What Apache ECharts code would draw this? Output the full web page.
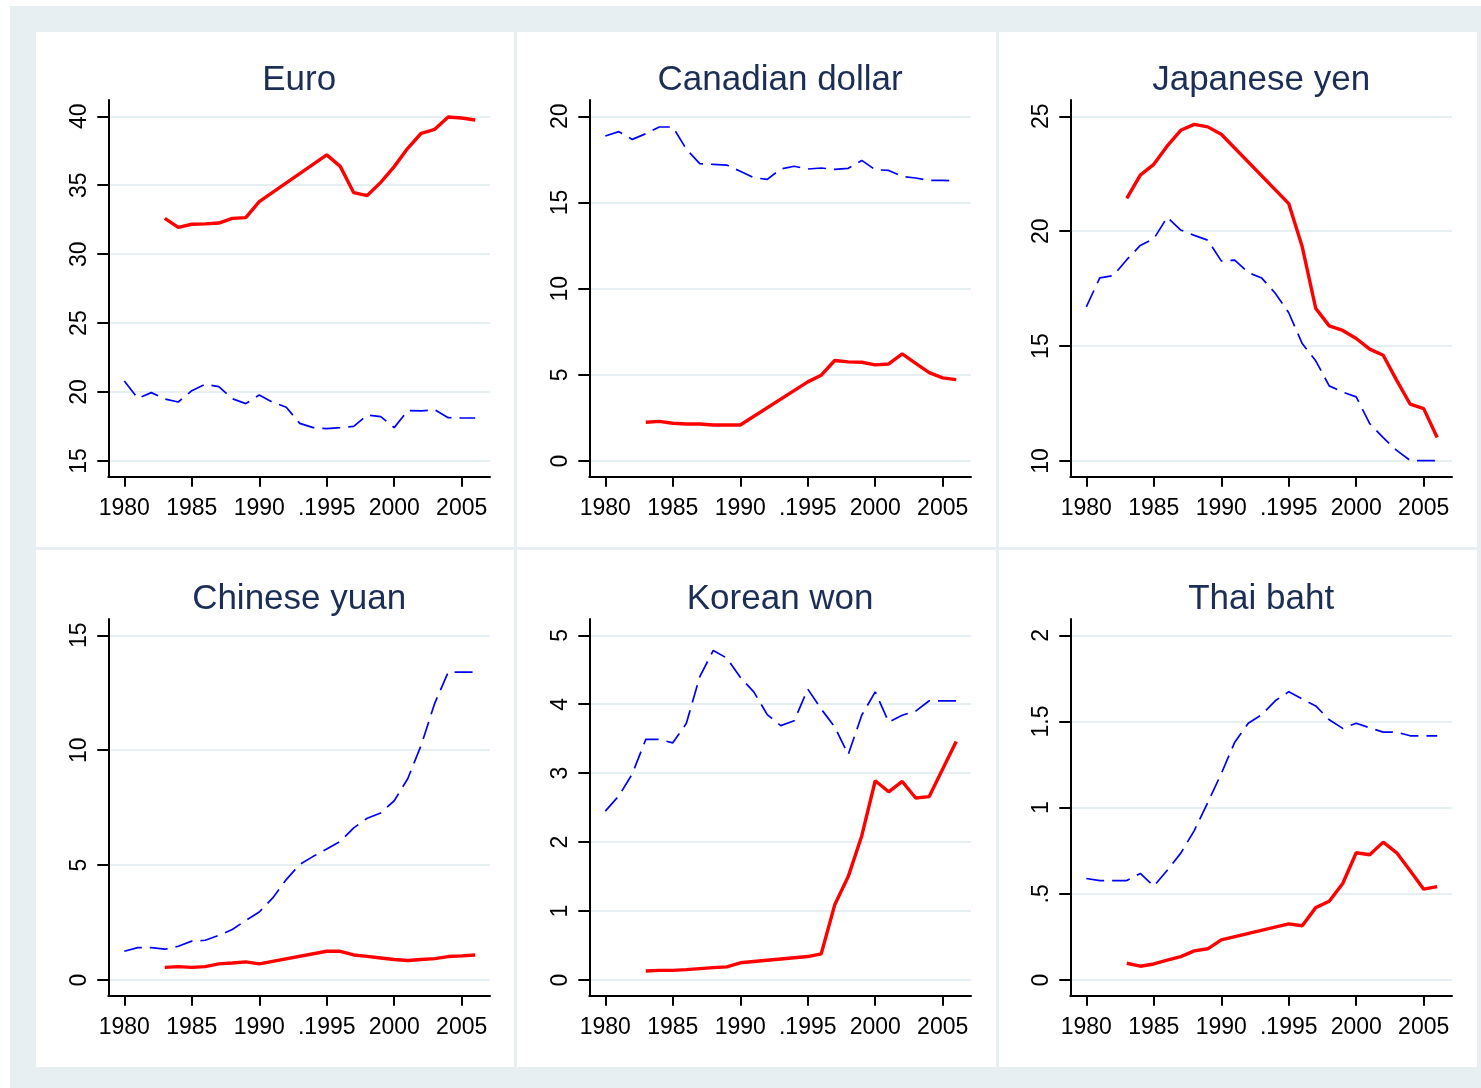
<!DOCTYPE html>
<html><head><meta charset="utf-8">
<script src="https://cdn.jsdelivr.net/npm/echarts@6/dist/echarts.min.js"></script>
<style>
html,body{margin:0;padding:0;background:#fff}
#wrap{position:relative;width:1481px;height:1088px;overflow:hidden}
.bg{position:absolute;left:10px;top:6px;width:1471px;height:1082px;background:#e8eff2}
.pn{position:absolute;background:#fff}
#c{position:absolute;left:0;top:0;width:1481px;height:1088px}
</style>
</head><body>
<div id="wrap">
<div class="bg"></div>
<div id="panels"></div>
<div id="c"></div>
</div>
<script>
const years = [1980,1981,1982,1983,1984,1985,1986,1987,1988,1989,1990,1991,1992,1993,1994,1995,1996,1997,1998,1999,2000,2001,2002,2003,2004,2005,2006];
const xTicks = [1980,1985,1990,1995,2000,2005];
const xTickLabels = ['1980','1985','1990','.1995','2000','2005'];
const titles = ['Euro','Canadian dollar','Japanese yen','Chinese yuan','Korean won','Thai baht'];

const euroSolid = [null,null,null,32.6,31.95,32.17,32.2,32.26,32.6,32.65,33.81,null,null,null,null,37.2,36.37,34.46,34.25,35.21,36.35,37.68,38.77,39.06,39.95,39.88,39.73];
const euroDashed = [20.8,19.55,19.96,19.5,19.28,20.1,20.56,20.39,19.52,19.16,19.79,19.26,18.9,17.73,17.42,17.35,17.42,17.51,18.34,18.22,17.42,18.65,18.63,18.72,18.14,18.12,18.12];
const cadSolid = [null,null,null,2.25,2.30,2.19,2.15,2.15,2.09,2.09,2.09,null,null,null,null,4.59,4.98,5.83,5.75,5.73,5.58,5.63,6.21,5.67,5.13,4.82,4.72];
const cadDashed = [18.86,19.11,18.66,18.99,19.38,19.38,18.1,17.25,17.21,17.17,16.81,16.44,16.34,16.94,17.1,16.94,17.0,16.92,16.98,17.44,16.9,16.86,16.51,16.42,16.28,16.28,16.26];
const jpySolid = [null,null,null,21.43,22.44,22.91,23.71,24.39,24.65,24.54,24.22,null,null,null,null,21.2,19.32,16.64,15.88,15.68,15.33,14.87,14.6,13.51,12.47,12.28,11.02];
const jpyDashed = [16.71,17.97,18.07,18.76,19.38,19.67,20.61,20.05,19.82,19.61,18.71,18.74,18.2,17.96,17.3,16.45,15.11,14.36,13.27,13.0,12.79,11.63,11.02,10.46,10.02,10.02,10.02];
const cnySolid = [null,null,null,0.55,0.58,0.55,0.58,0.70,0.74,0.79,0.70,null,null,null,null,1.25,1.25,1.09,1.03,0.96,0.89,0.85,0.89,0.93,1.02,1.05,1.09];
const cnyDashed = [1.25,1.41,1.41,1.34,1.47,1.69,1.73,1.94,2.2,2.59,2.96,3.57,4.37,5.03,5.38,5.70,6.03,6.62,7.04,7.27,7.8,8.76,10.22,12.04,13.4,13.4,13.4];
const krwSolid = [null,null,null,0.13,0.14,0.14,0.15,0.165,0.18,0.19,0.25,null,null,null,null,0.34,0.38,1.09,1.50,2.09,2.89,2.73,2.88,2.64,2.66,3.06,3.46];
const krwDashed = [2.45,2.67,2.99,3.49,3.49,3.44,3.72,4.40,4.78,4.67,4.39,4.18,3.85,3.69,3.76,4.22,3.93,3.67,3.27,3.84,4.18,3.74,3.84,3.90,4.05,4.05,4.05];
const thbSolid = [null,null,null,0.097,0.08,0.093,0.115,0.136,0.169,0.181,0.233,null,null,null,null,0.326,0.315,0.42,0.457,0.56,0.738,0.727,0.80,0.738,0.634,0.527,0.542];
const thbDashed = [0.589,0.577,0.577,0.577,0.618,0.544,0.637,0.736,0.867,1.03,1.197,1.38,1.49,1.54,1.62,1.673,1.63,1.59,1.51,1.46,1.49,1.463,1.438,1.438,1.417,1.417,1.417];

const yTicksEuro = [15,20,25,30,35,40];
const yTicksCad = [0,5,10,15,20];
const yTicksJpy = [10,15,20,25];
const yTicksCny = [0,5,10,15];
const yTicksKrw = [0,1,2,3,4,5];
const yTicksThb = [0,0.5,1,1.5,2];
const yLabelsEuro = ['15','20','25','30','35','40'];
const yLabelsCad = ['0','5','10','15','20'];
const yLabelsJpy = ['10','15','20','25'];
const yLabelsCny = ['0','5','10','15'];
const yLabelsKrw = ['0','1','2','3','4','5'];
const yLabelsThb = ['0','.5','1','1.5','2'];

const panelsData = [
  {solid: euroSolid, dashed: euroDashed, ticks: yTicksEuro, labels: yLabelsEuro},
  {solid: cadSolid, dashed: cadDashed, ticks: yTicksCad, labels: yLabelsCad},
  {solid: jpySolid, dashed: jpyDashed, ticks: yTicksJpy, labels: yLabelsJpy},
  {solid: cnySolid, dashed: cnyDashed, ticks: yTicksCny, labels: yLabelsCny},
  {solid: krwSolid, dashed: krwDashed, ticks: yTicksKrw, labels: yLabelsKrw},
  {solid: thbSolid, dashed: thbDashed, ticks: yTicksThb, labels: yLabelsThb}
];

// white panel backgrounds
const colX = [[36,514],[517,996],[999,1477]];
const rowY = [[32,547],[550,1067]];
const pHost = document.getElementById('panels');
for (const r of rowY) for (const c of colX) {
  const d = document.createElement('div');
  d.className = 'pn';
  d.style.left = c[0]+'px'; d.style.top = r[0]+'px';
  d.style.width = (c[1]-c[0])+'px'; d.style.height = (r[1]-r[0])+'px';
  pHost.appendChild(d);
}

const FONT = '"Liberation Sans", Arial, sans-serif';
const gridW = 381.7, gridH = 376.7;
const xPxPerYear = (461.7-124.3)/25;
const xMin = 1980 - (124.3-108.3)/xPxPerYear;
const xMax = xMin + gridW/xPxPerYear;

const grids = [], xAxes = [], yAxes = [], series = [], titleOpts = [];
panelsData.forEach((p, i) => {
  const c = i % 3, r = Math.floor(i / 3);
  const left = 108.3 + 481*c, top = 100 + 519*r;
  grids.push({left: left, top: top, width: gridW, height: gridH, containLabel: false});
  titleOpts.push({
    text: titles[i], left: left + gridW/2, top: 77 + 519*r - 14, textAlign: 'center', padding: 0,
    textStyle: {fontFamily: FONT, fontSize: 35, fontWeight: 'normal', color: '#1c2d56'}
  });
  const tMin = p.ticks[0], tMax = p.ticks[p.ticks.length-1];
  const span = tMax - tMin;
  const yMin = tMin - span*15.7/344.7, yMax = tMax + span*16.3/344.7;
  xAxes.push({
    type: 'value', gridIndex: i, min: xMin, max: xMax,
    axisLine: {show: true, onZero: false, lineStyle: {color: '#000', width: 2}},
    axisTick: {show: true, customValues: xTicks, length: 10, lineStyle: {color: '#000', width: 2}},
    axisLabel: {show: true, customValues: xTicks, margin: 20, fontFamily: FONT, fontSize: 23, color: '#000',
      formatter: v => xTickLabels[xTicks.indexOf(Math.round(v))]},
    splitLine: {show: false}
  });
  yAxes.push({
    type: 'value', gridIndex: i, min: yMin, max: yMax,
    axisLine: {show: true, onZero: false, lineStyle: {color: '#000', width: 2}},
    axisTick: {show: true, customValues: p.ticks, length: 11, lineStyle: {color: '#000', width: 2}},
    axisLabel: {show: true, customValues: p.ticks, rotate: 90, margin: 17, fontFamily: FONT, fontSize: 23, color: '#000',
      formatter: v => { let k = p.ticks.findIndex(t => Math.abs(t - v) < 1e-6); return k >= 0 ? p.labels[k] : ''; }},
    splitLine: {show: true, lineStyle: {color: '#e6eff1', width: 2}}
  });
  series.push({
    type: 'line', name: 'dashed', xAxisIndex: i, yAxisIndex: i,
    data: years.map((y, k) => [y, p.dashed[k]]), showSymbol: false, connectNulls: true,
    lineStyle: {color: '#0000ff', width: 1.7, type: [18, 8]}, z: 3, silent: true
  });
  series.push({
    type: 'line', name: 'solid', xAxisIndex: i, yAxisIndex: i,
    data: years.map((y, k) => [y, p.solid[k]]), showSymbol: false, connectNulls: true,
    lineStyle: {color: '#ff0000', width: 3.4}, z: 4, silent: true
  });
});

const chart = echarts.init(document.getElementById('c'), null, {renderer: 'canvas'});
chart.setOption({
  backgroundColor: 'transparent',
  animation: false,
  title: titleOpts,
  grid: grids, xAxis: xAxes, yAxis: yAxes, series: series
});
</script>
</body></html>
